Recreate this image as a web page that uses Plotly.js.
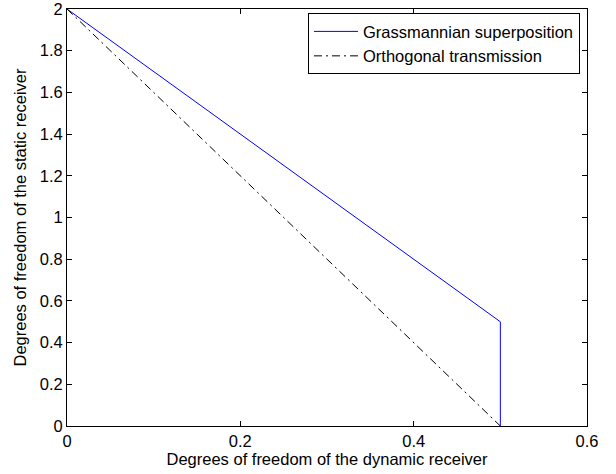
<!DOCTYPE html>
<html>
<head>
<meta charset="utf-8">
<script src="https://cdn.plot.ly/plotly-3.0.1.min.js"></script>
<style>html,body{margin:0;padding:0;background:#fff;}#chart{width:616px;height:474px;}</style>
</head>
<body>
<div id="chart"></div>
<script>
const grassX = [0, 0.5, 0.5];
const grassY = [2, 0.5, 0];
const orthoX = [0, 0.5];
const orthoY = [2, 0];
const seriesNames = ["Grassmannian superposition", "Orthogonal transmission"];
const xTicks = [0, 0.2, 0.4, 0.6];
const yTicks = [0, 0.2, 0.4, 0.6, 0.8, 1, 1.2, 1.4, 1.6, 1.8, 2];

const font = {family: "Liberation Sans, Arial, sans-serif", size: 16.5, color: "#000"};
const traces = [
  {x: grassX, y: grassY, type: "scatter", mode: "lines", name: seriesNames[0],
   line: {color: "rgb(0,0,255)", width: 1}},
  {x: orthoX, y: orthoY, type: "scatter", mode: "lines", name: seriesNames[1],
   line: {color: "#000", width: 1, dash: "8px,4px,2px,4px"}}
];
const axisCommon = {
  showgrid: false, zeroline: false, showline: true, linecolor: "#000", linewidth: 1,
  mirror: "ticks", ticks: "inside", ticklen: 5, tickcolor: "#000", tickfont: font,
  ticklabeloverflow: "allow"
};
const layout = {
  width: 616, height: 474,
  margin: {l: 67, r: 29, t: 9, b: 48},
  paper_bgcolor: "#fff", plot_bgcolor: "#fff",
  font: font,
  showlegend: true,
  legend: {x: 0.9865, y: 0.99, xanchor: "right", yanchor: "top",
    bordercolor: "#000", borderwidth: 1, bgcolor: "#fff",
    font: font, tracegroupgap: 0, itemwidth: 44},
  xaxis: Object.assign({}, axisCommon, {range: [0, 0.6], tickvals: xTicks, ticktext: xTicks.map(String),
    title: {text: "Degrees of freedom of the dynamic receiver", font: font, standoff: 1}}),
  yaxis: Object.assign({}, axisCommon, {range: [0, 2], tickvals: yTicks, ticktext: yTicks.map(String),
    title: {text: "Degrees of freedom of the static receiver", font: font, standoff: 8}})
};
Plotly.newPlot("chart", traces, layout, {displayModeBar: false, staticPlot: true});
</script>
</body>
</html>
